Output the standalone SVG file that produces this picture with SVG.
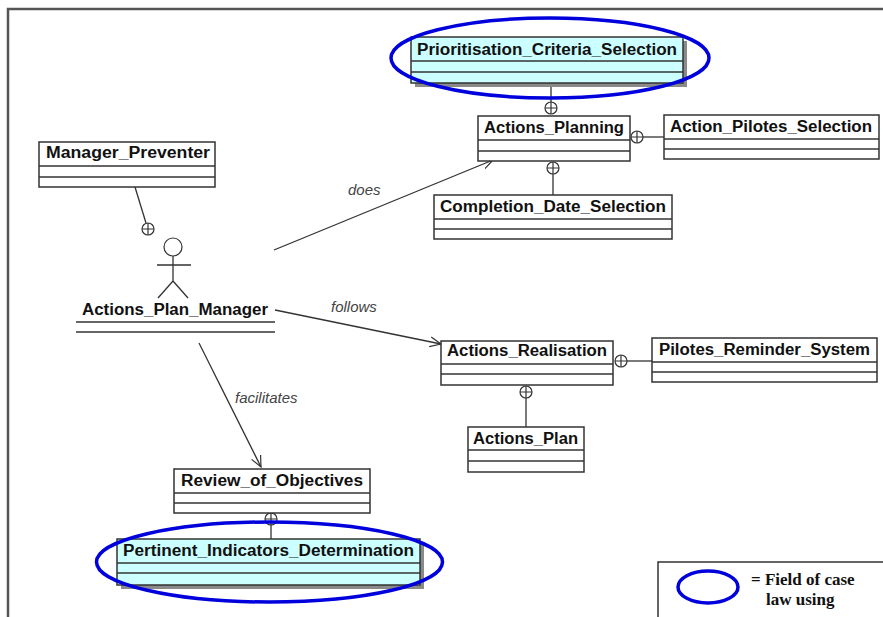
<svg xmlns="http://www.w3.org/2000/svg" width="883" height="617" viewBox="0 0 883 617">
<defs>
<style>
.box{fill:#fff;stroke:#333;stroke-width:1.5}
.hl{fill:#ccffff;stroke:#333;stroke-width:1.5}
.sh{fill:#8a8a8a}
.sep{stroke:#333;stroke-width:1.3}
.nm{font-family:"Liberation Sans",Arial,sans-serif;font-weight:bold;font-size:16px;fill:#111}
.lb{font-family:"Liberation Sans",Arial,sans-serif;font-style:italic;font-size:15px;fill:#444}
.ln{stroke:#333;stroke-width:1.3;fill:none}
.pc{fill:#fff;stroke:#333;stroke-width:1.2}
.ov{fill:none;stroke:#0000dd;stroke-width:3.5}
.lg{font-family:"Liberation Serif","Times New Roman",serif;font-weight:bold;font-size:17px;fill:#111}
</style>
<marker id="open" markerWidth="12" markerHeight="12" refX="11" refY="5" orient="auto" markerUnits="userSpaceOnUse" viewBox="0 0 12 10">
<path d="M0,0 L11,5 L0,10" fill="none" stroke="#333" stroke-width="1.2"/>
</marker>
<g id="pl">
<circle r="6" class="pc"/>
<path d="M-6,0 H6 M0,-6 V6" stroke="#333" stroke-width="1.2"/>
</g>
</defs>
<rect width="883" height="617" fill="#fff"/>
<path d="M8,617 V9 H883" fill="none" stroke="#555" stroke-width="2.5"/>

<g id="connectors">
<line class="ln" x1="551" y1="83" x2="551" y2="102"/>
<use href="#pl" x="551" y="108"/>
<line class="ln" x1="643" y1="137" x2="664" y2="137"/>
<use href="#pl" x="637" y="137"/>
<line class="ln" x1="553" y1="174" x2="553" y2="195"/>
<use href="#pl" x="553" y="168"/>
<line class="ln" x1="135" y1="187" x2="146" y2="223"/>
<use href="#pl" x="148" y="229"/>
<line class="ln" x1="627" y1="361" x2="652" y2="361"/>
<use href="#pl" x="621" y="361"/>
<line class="ln" x1="526" y1="398" x2="526" y2="427"/>
<use href="#pl" x="526" y="392"/>
<line class="ln" x1="271" y1="525" x2="271" y2="539"/>
<use href="#pl" x="271" y="519"/>
<line class="ln" x1="274" y1="250" x2="493" y2="160" marker-end="url(#open)"/>
<text class="lb" x="348" y="195">does</text>
<line class="ln" x1="275" y1="310" x2="441" y2="344" marker-end="url(#open)"/>
<text class="lb" x="331" y="312">follows</text>
<line class="ln" x1="199" y1="343" x2="261" y2="467" marker-end="url(#open)"/>
<text class="lb" x="235" y="403">facilitates</text>
</g>

<g id="Prioritisation_Criteria_Selection">
<rect class="sh" x="415" y="41" width="272" height="46"/>
<rect class="hl" x="411" y="37" width="272" height="46"/>
<line class="sep" x1="411" y1="61" x2="683" y2="61"/>
<line class="sep" x1="411" y1="72" x2="683" y2="72"/>
<text class="nm" x="417" y="55" textLength="260" lengthAdjust="spacingAndGlyphs">Prioritisation_Criteria_Selection</text>
<ellipse class="ov" cx="550" cy="58" rx="159" ry="40"/>
</g>

<g id="Actions_Planning">
<rect class="box" x="478" y="116" width="152" height="45"/>
<line class="sep" x1="478" y1="140" x2="630" y2="140"/>
<line class="sep" x1="478" y1="151" x2="630" y2="151"/>
<text class="nm" x="484" y="133" textLength="140" lengthAdjust="spacingAndGlyphs">Actions_Planning</text>
</g>

<g id="Action_Pilotes_Selection">
<rect class="box" x="664" y="115" width="215" height="44"/>
<line class="sep" x1="664" y1="139" x2="879" y2="139"/>
<line class="sep" x1="664" y1="149" x2="879" y2="149"/>
<text class="nm" x="670" y="132" textLength="202" lengthAdjust="spacingAndGlyphs">Action_Pilotes_Selection</text>
</g>

<g id="Completion_Date_Selection">
<rect class="box" x="434" y="195" width="238" height="44"/>
<line class="sep" x1="434" y1="219" x2="672" y2="219"/>
<line class="sep" x1="434" y1="229" x2="672" y2="229"/>
<text class="nm" x="440" y="212" textLength="226" lengthAdjust="spacingAndGlyphs">Completion_Date_Selection</text>
</g>

<g id="Manager_Preventer">
<rect class="box" x="39" y="142" width="176" height="45"/>
<line class="sep" x1="39" y1="166" x2="215" y2="166"/>
<line class="sep" x1="39" y1="177" x2="215" y2="177"/>
<text class="nm" x="46" y="158" textLength="164" lengthAdjust="spacingAndGlyphs">Manager_Preventer</text>
</g>

<g id="Actions_Plan_Manager">
<circle cx="173" cy="247" r="9" fill="#fff" stroke="#333" stroke-width="1.2"/>
<path d="M173,256 V281 M157,265 H191 M173,281 L158,298 M173,281 L188,298" class="ln"/>
<text class="nm" x="82" y="315" textLength="186" lengthAdjust="spacingAndGlyphs">Actions_Plan_Manager</text>
<line class="sep" x1="76" y1="322" x2="275" y2="322"/>
<line class="sep" x1="76" y1="332" x2="275" y2="332"/>
</g>

<g id="Actions_Realisation">
<rect class="box" x="441" y="341" width="172" height="44"/>
<line class="sep" x1="441" y1="364" x2="613" y2="364"/>
<line class="sep" x1="441" y1="374" x2="613" y2="374"/>
<text class="nm" x="447" y="356" textLength="160" lengthAdjust="spacingAndGlyphs">Actions_Realisation</text>
</g>

<g id="Pilotes_Reminder_System">
<rect class="box" x="652" y="338" width="225" height="44"/>
<line class="sep" x1="652" y1="362" x2="877" y2="362"/>
<line class="sep" x1="652" y1="372" x2="877" y2="372"/>
<text class="nm" x="659" y="355" textLength="211" lengthAdjust="spacingAndGlyphs">Pilotes_Reminder_System</text>
</g>

<g id="Actions_Plan">
<rect class="box" x="468" y="427" width="116" height="45"/>
<line class="sep" x1="468" y1="450" x2="584" y2="450"/>
<line class="sep" x1="468" y1="461" x2="584" y2="461"/>
<text class="nm" x="473" y="444" textLength="105" lengthAdjust="spacingAndGlyphs">Actions_Plan</text>
</g>

<g id="Review_of_Objectives">
<rect class="box" x="174" y="469" width="196" height="44"/>
<line class="sep" x1="174" y1="493" x2="370" y2="493"/>
<line class="sep" x1="174" y1="503" x2="370" y2="503"/>
<text class="nm" x="181" y="486" textLength="182" lengthAdjust="spacingAndGlyphs">Review_of_Objectives</text>
</g>

<g id="Pertinent_Indicators_Determination">
<rect class="sh" x="121" y="543" width="303" height="46"/>
<rect class="hl" x="117" y="539" width="303" height="46"/>
<line class="sep" x1="117" y1="563" x2="420" y2="563"/>
<line class="sep" x1="117" y1="573" x2="420" y2="573"/>
<text class="nm" x="123" y="556" textLength="291" lengthAdjust="spacingAndGlyphs">Pertinent_Indicators_Determination</text>
<ellipse class="ov" cx="269.5" cy="562" rx="173" ry="40"/>
</g>

<g id="legend">
<path d="M658,617 V562 H883" fill="none" stroke="#333" stroke-width="1.5"/>
<ellipse class="ov" cx="708" cy="587" rx="30" ry="16"/>
<text class="lg" x="751" y="585">= Field of case</text>
<text class="lg" x="766" y="605">law using</text>
</g>
</svg>
